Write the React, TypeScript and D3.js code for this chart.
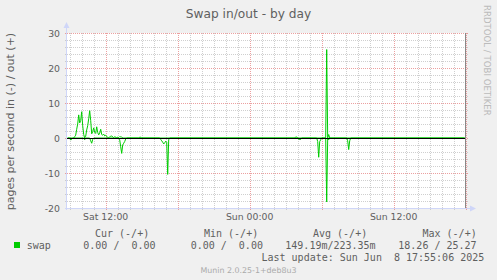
import React from 'react';
import * as d3 from 'd3';

const W = 497;
const H = 280;

const TITLE = 'Swap in/out - by day';
const Y_LABEL = 'pages per second in (-) / out (+)';
const WATERMARK_SIDE = 'RRDTOOL / TOBI OETIKER';
const FOOTER = 'Munin 2.0.25-1+deb8u3';

const yTicks = [-20, -10, 0, 10, 20, 30];
const xLabelTimes = ['Sat 12:00', 'Sun 00:00', 'Sun 12:00'];

const legendHeaders = ['Cur (-/+)', 'Min (-/+)', 'Avg (-/+)', 'Max (-/+)'];
const legendValues = ['0.00 /  0.00', '0.00 /  0.00', '149.19m/223.35m', '18.26 / 25.27'];
const lastUpdate = 'Last update: Sun Jun  8 17:55:06 2025';

// swap out (+), pages per second
const swapOut: [string, number][] = [
  ['Sat 08:50', 0], ['Sat 09:20', 0], ['Sat 09:25', 0.4], ['Sat 09:30', 0.8], ['Sat 09:35', 2.5],
  ['Sat 09:40', 4.0], ['Sat 09:45', 6.6], ['Sat 09:50', 4.3], ['Sat 09:55', 5.0], ['Sat 10:00', 7.5],
  ['Sat 10:05', 3.5], ['Sat 10:10', 1.0], ['Sat 10:15', 0], ['Sat 10:20', 0.5], ['Sat 10:25', 2.3],
  ['Sat 10:30', 3.5], ['Sat 10:35', 5.5], ['Sat 10:40', 7.8], ['Sat 10:45', 5.0], ['Sat 10:50', 1.2],
  ['Sat 10:55', 1.8], ['Sat 11:00', 2.9], ['Sat 11:05', 1.6], ['Sat 11:10', 1.3], ['Sat 11:15', 3.2],
  ['Sat 11:20', 1.6], ['Sat 11:25', 0.9], ['Sat 11:30', 1.4], ['Sat 11:35', 2.5], ['Sat 11:40', 1.0],
  ['Sat 11:45', 0.8], ['Sat 11:50', 1.1], ['Sat 11:55', 0.6], ['Sat 12:00', 0.8], ['Sat 12:05', 0.4],
  ['Sat 12:10', 0.2], ['Sat 12:15', 0.1], ['Sat 12:20', 0.3], ['Sat 12:25', 0.5], ['Sat 12:30', 0.6],
  ['Sat 12:35', 0.3], ['Sat 12:40', 0.1], ['Sat 12:45', 0.4], ['Sat 12:50', 0.2], ['Sat 12:55', 0],
  ['Sat 13:00', 0.3], ['Sat 13:05', 0.1], ['Sat 13:10', 0.4], ['Sat 13:15', 0.3], ['Sat 13:20', 0.3],
  ['Sat 13:25', 0], ['Sat 14:45', 0], ['Sat 14:50', 0.2], ['Sat 14:55', 0.2], ['Sat 15:00', 0],
  ['Sun 03:45', 0], ['Sun 03:50', 0.3], ['Sun 03:55', 0.3], ['Sun 04:00', 0],
  ['Sun 06:20', 0], ['Sun 06:25', 25.27], ['Sun 06:30', 0], ['Sun 06:35', 1.0], ['Sun 06:40', 0],
  ['Sun 17:55', 0],
];

// swap in (-), pages per second (magnitude, drawn downward)
const swapIn: [string, number][] = [
  ['Sat 08:50', 0], ['Sat 09:00', 0], ['Sat 09:05', 0.6], ['Sat 09:10', 0.3], ['Sat 09:15', 0],
  ['Sat 10:10', 0], ['Sat 10:15', 0.5], ['Sat 10:20', 0],
  ['Sat 10:40', 0], ['Sat 10:45', 0.8], ['Sat 10:50', 1.5], ['Sat 10:55', 0.4], ['Sat 11:00', 0],
  ['Sat 13:05', 0], ['Sat 13:10', 0.5], ['Sat 13:15', 2.5], ['Sat 13:20', 4.4], ['Sat 13:25', 2.0],
  ['Sat 13:30', 1.5], ['Sat 13:35', 1.0], ['Sat 13:40', 0.3], ['Sat 13:45', 0],
  ['Sat 16:30', 0], ['Sat 16:35', 0.4], ['Sat 16:40', 0.8], ['Sat 16:45', 1.2], ['Sat 16:50', 1.7],
  ['Sat 16:55', 1.4], ['Sat 17:00', 0.9], ['Sat 17:05', 1.2], ['Sat 17:10', 10.4], ['Sat 17:15', 0.5],
  ['Sat 17:20', 0],
  ['Sun 04:00', 0], ['Sun 04:05', 0.4], ['Sun 04:10', 0.4], ['Sun 04:15', 0.4], ['Sun 04:20', 0],
  ['Sun 05:35', 0], ['Sun 05:40', 1.0], ['Sun 05:45', 5.5], ['Sun 05:50', 1.0], ['Sun 05:55', 0.5],
  ['Sun 06:00', 0],
  ['Sun 06:20', 0], ['Sun 06:25', 18.26], ['Sun 06:30', 0], ['Sun 06:35', 0.5], ['Sun 06:40', 0],
  ['Sun 08:05', 0], ['Sun 08:10', 0.8], ['Sun 08:15', 3.3], ['Sun 08:20', 0.8], ['Sun 08:25', 0],
  ['Sun 17:55', 0],
];

const DAYS: Record<string, number> = { Sat: 7, Sun: 8 };
function parseT(s: string): Date {
  const [d, hm] = s.split(' ');
  const [h, m] = hm.split(':').map(Number);
  return new Date(2025, 5, DAYS[d], h, m, 0);
}

const X0 = 67;
const X1 = 466;
const Y_TOP = 33;
const Y_BOT = 208;

const start = new Date(2025, 5, 7, 8, 46, 30);
const end = new Date(start.getTime() + ((X1 - X0) / 12) * 3600 * 1000);

const x = d3.scaleTime().domain([start, end]).range([X0, X1]);
const y = d3.scaleLinear().domain([-20, 30]).range([Y_BOT, Y_TOP]);

const FONT = 'DejaVu Sans, sans-serif';
const MONO = 'DejaVu Sans Mono, monospace';
const TEXT = '#5f5f5f';
const AXIS = '#CFD6F8';
const GRID = 'rgba(191,191,191,0.75)';
const MGRID = 'rgba(230,128,128,0.75)';
const LINE = '#00CC00';

export default function App() {
  const px = (v: number) => Math.round(v) + 0.5;
  const hours = d3.timeHour.range(d3.timeHour.ceil(start), end);
  const minorY = d3.range(-20, 31, 2).filter((v) => v % 10 !== 0);

  const line = d3
    .line<[Date, number]>()
    .x((d) => x(d[0]))
    .y((d) => y(d[1]));

  const outPts: [Date, number][] = swapOut.map(([t, v]) => [parseT(t), v]);
  const inPts: [Date, number][] = swapIn.map(([t, v]) => [parseT(t), -v]);

  const legendCols = [95, 204, 313, 422.5];
  const valueCols = [83.3, 190.7, 285.3, 398.3];

  return (
    <svg
      width={W}
      height={H}
      viewBox={`0 0 ${W} ${H}`}
      style={{ position: 'fixed', left: 0, top: 0, display: 'block' }}
    >
      <rect x={0} y={0} width={W} height={H} fill="#F0F0F0" />
      <rect x={X0} y={Y_TOP} width={X1 - X0} height={Y_BOT - Y_TOP} fill="#FFFFFF" />

      {/* minor vertical grid */}
      {hours
        .filter((h) => h.getHours() % 6 !== 0)
        .map((h, i) => (
          <line
            key={'vx' + i}
            x1={px(x(h))}
            x2={px(x(h))}
            y1={Y_TOP}
            y2={Y_BOT + 2}
            stroke={GRID}
            strokeDasharray="1,1"
          />
        ))}
      {/* minor horizontal grid */}
      {minorY.map((v) => (
        <line
          key={'hy' + v}
          x1={X0 - 2}
          x2={X1 + 2}
          y1={px(y(v))}
          y2={px(y(v))}
          stroke={GRID}
          strokeDasharray="1,1"
        />
      ))}
      {/* major vertical grid */}
      {hours
        .filter((h) => h.getHours() % 6 === 0)
        .map((h, i) => (
          <line
            key={'mx' + i}
            x1={px(x(h))}
            x2={px(x(h))}
            y1={Y_TOP}
            y2={Y_BOT + 2}
            stroke={MGRID}
            strokeDasharray="1,1"
          />
        ))}
      {/* major horizontal grid */}
      {yTicks.map((v) => (
        <line
          key={'my' + v}
          x1={X0 - 2}
          x2={X1 + 2}
          y1={px(y(v))}
          y2={px(y(v))}
          stroke={MGRID}
          strokeDasharray="1,1"
        />
      ))}

      {/* data */}
      <path d={line(outPts) || ''} fill="none" stroke={LINE} strokeWidth={1} />
      <path d={line(inPts) || ''} fill="none" stroke={LINE} strokeWidth={1} />

      {/* zero rule */}
      <line x1={X0} x2={X1} y1={px(y(0))} y2={px(y(0))} stroke="#000000" strokeWidth={1} />

      {/* right frame line */}
      <line x1={X1 - 0.5} x2={X1 - 0.5} y1={Y_TOP} y2={Y_BOT} stroke="#888888" strokeWidth={1} />

      {/* axes */}
      <line x1={X0 - 0.5} x2={X0 - 0.5} y1={Y_BOT + 2} y2={Y_TOP - 5} stroke={AXIS} strokeWidth={1} />
      <path d={`M${X0 - 3.5},${Y_TOP - 5} L${X0 + 2.5},${Y_TOP - 5} L${X0 - 0.5},${Y_TOP - 11} Z`} fill={AXIS} />
      <line x1={X0 - 2} x2={X1 + 4} y1={Y_BOT + 0.5} y2={Y_BOT + 0.5} stroke={AXIS} strokeWidth={1} />
      <path d={`M${X1 + 4},${Y_BOT - 2.5} L${X1 + 4},${Y_BOT + 3.5} L${X1 + 10},${Y_BOT + 0.5} Z`} fill={AXIS} />

      {/* y tick labels */}
      {yTicks.map((v) => (
        <text
          key={'yl' + v}
          x={60}
          y={y(v) + 3.5}
          textAnchor="end"
          fontFamily={FONT}
          fontSize={9.33}
          fill={TEXT}
        >
          {v}
        </text>
      ))}

      {/* x labels */}
      {xLabelTimes.map((t) => (
        <text
          key={'xl' + t}
          x={x(parseT(t))}
          y={220}
          textAnchor="middle"
          fontFamily={FONT}
          fontSize={9.33}
          fill={TEXT}
        >
          {t}
        </text>
      ))}

      {/* title */}
      <text x={248.5} y={18} textAnchor="middle" fontFamily={FONT} fontSize={12.2} fill={TEXT}>
        {TITLE}
      </text>

      {/* y axis label */}
      <text
        transform={`translate(14, ${(Y_TOP + Y_BOT) / 2 + 1}) rotate(-90)`}
        textAnchor="middle"
        fontFamily={FONT}
        fontSize={11}
        fill={TEXT}
      >
        {Y_LABEL}
      </text>

      {/* side watermark */}
      <text
        transform={`translate(484, 5) rotate(90)`}
        textAnchor="start"
        fontFamily={FONT}
        fontSize={8.6}
        fill="#BBBBBB"
      >
        {WATERMARK_SIDE}
      </text>

      {/* legend */}
      {legendHeaders.map((h, i) => (
        <text
          key={'lh' + i}
          x={legendCols[i]}
          y={237}
          fontFamily={MONO}
          fontSize={10}
          fill={TEXT}
          style={{ whiteSpace: 'pre' }}
        >
          {h}
        </text>
      ))}
      <rect x={14} y={242} width={6} height={6} fill={LINE} />
      <text x={26.7} y={249} fontFamily={MONO} fontSize={10} fill={TEXT}>
        swap
      </text>
      {legendValues.map((v, i) => (
        <text
          key={'lv' + i}
          x={valueCols[i]}
          y={249}
          fontFamily={MONO}
          fontSize={10}
          fill={TEXT}
          style={{ whiteSpace: 'pre' }}
        >
          {v}
        </text>
      ))}
      <text x={261.5} y={261} fontFamily={MONO} fontSize={10} fill={TEXT} style={{ whiteSpace: 'pre' }}>
        {lastUpdate}
      </text>

      <text x={248.5} y={272.5} textAnchor="middle" fontFamily={FONT} fontSize={7.9} fill="#AAAAAA">
        {FOOTER}
      </text>
    </svg>
  );
}
